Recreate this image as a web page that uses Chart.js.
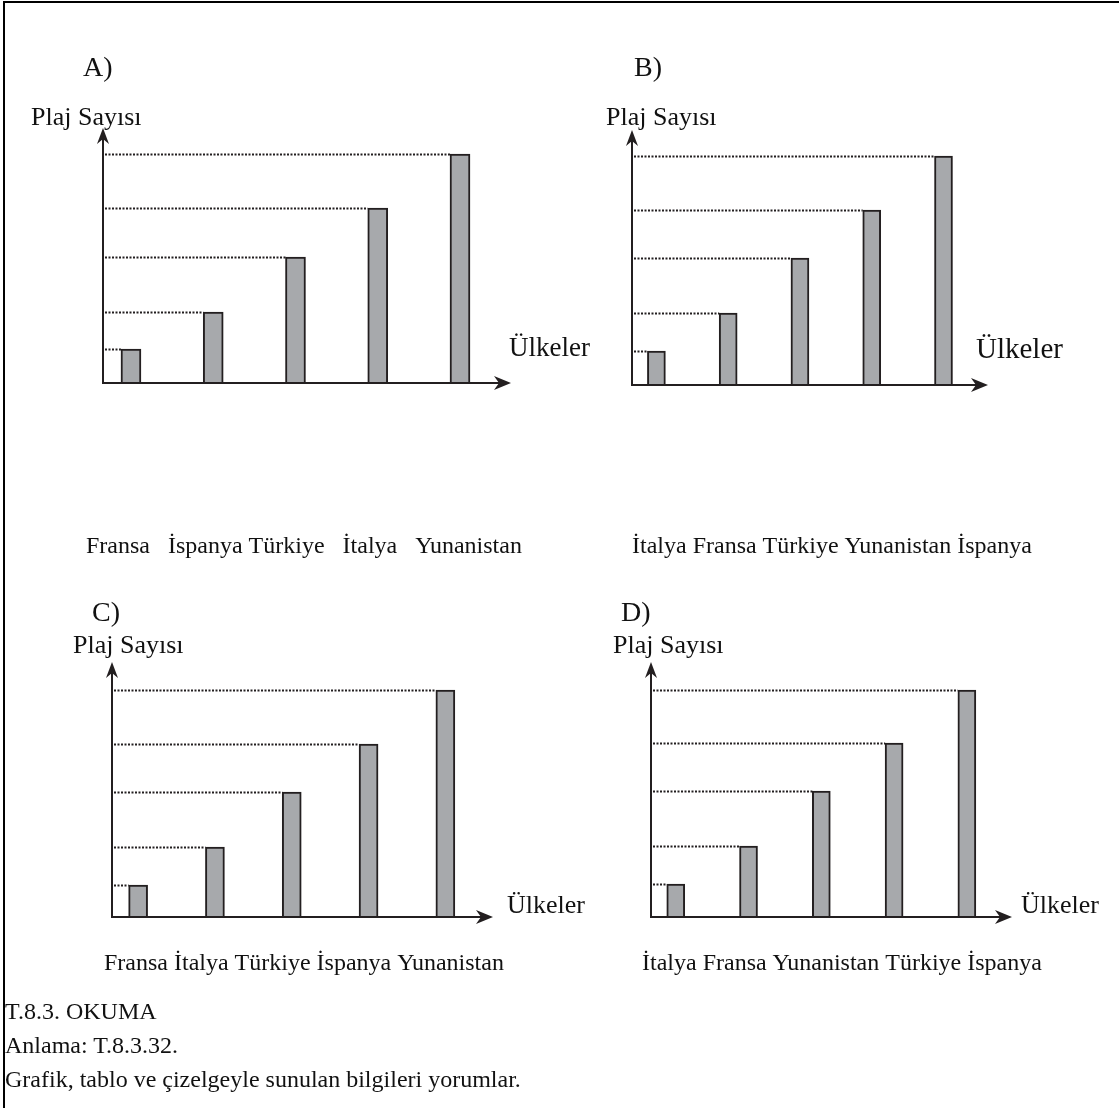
<!DOCTYPE html>
<html lang="tr">
<head>
<meta charset="utf-8">
<title>Plaj Sayısı</title>
<script src="https://cdn.jsdelivr.net/npm/chart.js@4.4.1/dist/chart.umd.min.js"></script>
<style>
  html, body { margin: 0; padding: 0; background: #fff; }
  body { width: 1119px; height: 1108px; position: relative; overflow: hidden; font-family: "Liberation Serif", "DejaVu Serif", serif; color: #111; }
  .frame { position: absolute; left: 3px; top: 1px; width: 1116px; height: 1107px; border-top: 2px solid #000; border-left: 2px solid #000; box-sizing: border-box; }
  canvas { position: absolute; }
  .note { position: absolute; left: 5px; top: 994px; font-size: 24px; line-height: 34px; white-space: nowrap; }
</style>
</head>
<body>
<div class="frame"></div>
<canvas id="chartA" width="640" height="580" style="left:0;top:0"></canvas>
<canvas id="chartB" width="559" height="580" style="left:560px;top:0"></canvas>
<canvas id="chartC" width="640" height="420" style="left:0;top:580px"></canvas>
<canvas id="chartD" width="559" height="420" style="left:560px;top:580px"></canvas>
<div class="note">T.8.3. OKUMA<br>Anlama: T.8.3.32.<br>Grafik, tablo ve çizelgeyle sunulan bilgileri yorumlar.</div>

<script>
// data (no numbers on the original axes, values read as relative heights)
const categoriesA = ["Fransa", "İspanya", "Türkiye", "İtalya", "Yunanistan"];
const categoriesB = ["İtalya", "Fransa", "Türkiye", "Yunanistan", "İspanya"];
const categoriesC = ["Fransa", "İtalya", "Türkiye", "İspanya", "Yunanistan"];
const categoriesD = ["İtalya", "Fransa", "Yunanistan", "Türkiye", "İspanya"];

const valuesA = [34, 71, 126, 175, 229];
const valuesB = [34, 72, 127, 175, 229];
const valuesC = [32, 70, 125, 173, 227];
const valuesD = [33, 71, 126, 174, 227];

const yMax = 255;
const yTitle = "Plaj Sayısı";
const xTitle = "Ülkeler";

const ink = "#231f20";
const barFill = "#a7a9ac";
const serif = '"Liberation Serif", "Times New Roman", serif';

// page layout of each panel (canvas box, plot box, text spots)
const panels = [
  { id: "chartA", letter: "A)", cats: categoriesA, vals: valuesA, gaps: ["   ", " ", "   ", "   "],
    box: [0, 0, 640, 580], area: [103, 128, 511, 383], bar: 20,
    letterAt: [83, 76], yTitleAt: [31, 125], xTitleAt: [509, 356], xTitleSize: 27, namesAt: [86, 553] },
  { id: "chartB", letter: "B)", cats: categoriesB, vals: valuesB, gaps: null,
    box: [560, 0, 559, 580], area: [632, 130, 988, 385], bar: 18,
    letterAt: [634, 76], yTitleAt: [606, 125], xTitleAt: [976, 358], xTitleSize: 29, namesAt: [632, 553] },
  { id: "chartC", letter: "C)", cats: categoriesC, vals: valuesC, gaps: null,
    box: [0, 580, 640, 420], area: [112, 662, 493, 917], bar: 19,
    letterAt: [92, 621], yTitleAt: [73, 653], xTitleAt: [507, 913], xTitleSize: 26, namesAt: [104, 970] },
  { id: "chartD", letter: "D)", cats: categoriesD, vals: valuesD, gaps: null,
    box: [560, 580, 559, 420], area: [651, 662, 1012, 917], bar: 18,
    letterAt: [621, 621], yTitleAt: [613, 653], xTitleAt: [1021, 913], xTitleSize: 26, namesAt: [642, 970] }
];

function arrowHead(ctx, x, y, dir) {
  // dir: 'right' or 'up'
  ctx.beginPath();
  if (dir === "right") {
    ctx.moveTo(x, y);
    ctx.lineTo(x - 17, y - 7);
    ctx.lineTo(x - 12, y);
    ctx.lineTo(x - 17, y + 7);
  } else {
    ctx.moveTo(x, y);
    ctx.lineTo(x - 6, y + 16);
    ctx.lineTo(x, y + 11);
    ctx.lineTo(x + 6, y + 16);
  }
  ctx.closePath();
  ctx.fill();
}

function makeDecor(p) {
  const ox = p.box[0], oy = p.box[1];
  return {
    id: "decor" + p.id,
    beforeDatasetsDraw(chart) {
      const { ctx, chartArea: a } = chart;
      const meta = chart.getDatasetMeta(0);
      ctx.save();
      ctx.strokeStyle = ink;
      ctx.lineWidth = 2;
      ctx.setLineDash([2, 1.5]);
      meta.data.forEach(bar => {
        const b = bar.getProps(["x", "y", "width"], true);
        ctx.beginPath();
        ctx.moveTo(a.left + 2, b.y + 0.5);
        ctx.lineTo(b.x - b.width / 2, b.y + 0.5);
        ctx.stroke();
      });
      ctx.restore();
    },
    afterDatasetsDraw(chart) {
      const { ctx, chartArea: a } = chart;
      ctx.save();
      ctx.strokeStyle = ink;
      ctx.fillStyle = ink;
      ctx.lineWidth = 2;
      ctx.beginPath();
      ctx.moveTo(a.left, a.bottom);
      ctx.lineTo(a.left, a.top + 8);
      ctx.moveTo(a.left - 1, a.bottom);
      ctx.lineTo(a.right - 8, a.bottom);
      ctx.stroke();
      arrowHead(ctx, a.right, a.bottom, "right");
      arrowHead(ctx, a.left, a.top, "up");

      ctx.fillStyle = "#111";
      ctx.textBaseline = "alphabetic";
      ctx.font = "28px " + serif;
      ctx.fillText(p.letter, p.letterAt[0] - ox, p.letterAt[1] - oy);
      ctx.font = "26px " + serif;
      ctx.fillText(yTitle, p.yTitleAt[0] - ox, p.yTitleAt[1] - oy);
      ctx.font = p.xTitleSize + "px " + serif;
      ctx.fillText(xTitle, p.xTitleAt[0] - ox, p.xTitleAt[1] - oy);

      let names = p.cats[0];
      for (let i = 1; i < p.cats.length; i++) {
        names += (p.gaps ? p.gaps[i - 1] : " ") + p.cats[i];
      }
      ctx.font = "24px " + serif;
      ctx.fillText(names, p.namesAt[0] - ox, p.namesAt[1] - oy);
      ctx.restore();
    }
  };
}

panels.forEach(p => {
  const ctx = document.getElementById(p.id).getContext("2d");
  const [bx, by, bw, bh] = p.box;
  const [l, t, r, b] = p.area;
  new Chart(ctx, {
    type: "bar",
    data: {
      labels: p.cats,
      datasets: [{
        label: yTitle,
        data: p.vals.map((v, i) => ({ x: i, y: v })),
        backgroundColor: barFill,
        borderColor: ink,
        borderWidth: 2,
        barThickness: p.bar
      }]
    },
    options: {
      responsive: false,
      animation: false,
      devicePixelRatio: 1,
      layout: { padding: { left: l - bx, top: t - by, right: bx + bw - r, bottom: by + bh - b } },
      plugins: { legend: { display: false }, tooltip: { enabled: false } },
      scales: {
        x: { type: "linear", offset: false, min: -0.34, max: 4.62, display: false },
        y: { min: 0, max: yMax, display: false }
      }
    },
    plugins: [makeDecor(p)]
  });
});
</script>
</body>
</html>
